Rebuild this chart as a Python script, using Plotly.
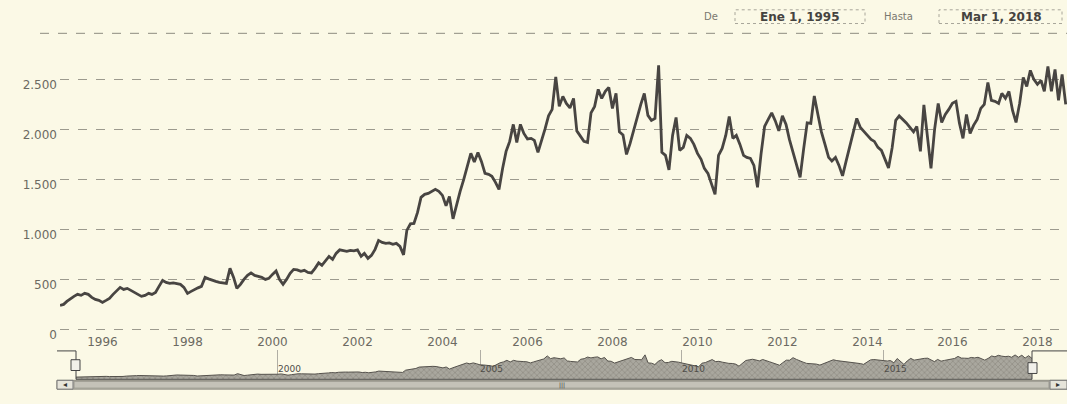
import plotly.graph_objects as go
import pandas as pd

# ---------------- data (monthly values) ----------------
v1995 = [240, 250, 280, 310, 330, 350, 340, 360, 350, 320, 300, 290]
v1996 = [270, 290, 310, 350, 390, 420, 400, 410, 390, 370, 350, 330]
v1997 = [340, 360, 350, 370, 430, 490, 470, 460, 465, 455, 450, 420]
v1998 = [360, 380, 400, 415, 430, 520, 505, 490, 480, 470, 465, 460]
v1999 = [610, 520, 410, 450, 500, 540, 565, 540, 530, 520, 500, 510]
v2000 = [550, 585, 500, 450, 500, 560, 600, 595, 580, 590, 570, 565]
v2001 = [610, 665, 640, 690, 730, 700, 760, 795, 785, 780, 790, 785]
v2002 = [795, 730, 760, 710, 740, 800, 890, 870, 860, 865, 850, 860]
v2003 = [830, 745, 990, 1055, 1060, 1170, 1320, 1350, 1360, 1380, 1400, 1380]
v2004 = [1340, 1235, 1330, 1105, 1250, 1380, 1495, 1620, 1760, 1675, 1770, 1680]
v2005 = [1560, 1550, 1530, 1470, 1400, 1610, 1780, 1880, 2050, 1870, 2050, 1960]
v2006 = [1905, 1910, 1890, 1770, 1880, 2005, 2135, 2200, 2525, 2230, 2330, 2260]
v2007 = [2215, 2310, 1985, 1930, 1880, 1870, 2165, 2230, 2400, 2310, 2380, 2420]
v2008 = [2210, 2360, 1975, 1945, 1750, 1860, 1990, 2130, 2250, 2360, 2140, 2090]
v2009 = [2110, 2640, 1770, 1740, 1595, 1940, 2120, 1790, 1820, 1940, 1910, 1850]
v2010 = [1760, 1700, 1610, 1560, 1450, 1350, 1740, 1810, 1940, 2130, 1910, 1940]
v2011 = [1850, 1740, 1720, 1710, 1640, 1420, 1750, 2030, 2100, 2165, 2085, 1985]
v2012 = [2135, 2050, 1900, 1775, 1640, 1520, 1800, 2065, 2060, 2335, 2150, 1975]
v2013 = [1850, 1720, 1685, 1720, 1640, 1535, 1680, 1815, 1970, 2110, 2020, 1980]
v2014 = [1945, 1900, 1880, 1820, 1790, 1700, 1615, 1815, 2090, 2135, 2100, 2065]
v2015 = [2020, 1975, 2030, 1780, 2245, 1900, 1610, 2000, 2260, 2070, 2150, 2200]
v2016 = [2260, 2280, 2065, 1910, 2150, 1960, 2040, 2100, 2210, 2250, 2470, 2290]
v2017 = [2280, 2260, 2360, 2310, 2380, 2190, 2070, 2260, 2520, 2430, 2590, 2500]
v2018 = [2450, 2490, 2380, 2630, 2380, 2600, 2290, 2550, 2250]

values = (v1995 + v1996 + v1997 + v1998 + v1999 + v2000 + v2001 + v2002 + v2003
          + v2004 + v2005 + v2006 + v2007 + v2008 + v2009 + v2010 + v2011
          + v2012 + v2013 + v2014 + v2015 + v2016 + v2017 + v2018)
dates = pd.date_range("1995-01-01", periods=len(values), freq="MS")

y_tick_vals = [0, 500, 1000, 1500, 2000, 2500]
y_tick_text = ["0", "500", "1.000", "1.500", "2.000", "2.500"]
x_tick_years = [1996, 1998, 2000, 2002, 2004, 2006, 2008, 2010, 2012, 2014, 2016, 2018]
nav_tick_years = [2000, 2005, 2010, 2015]
range_from = "Ene 1, 1995"
range_to = "Mar 1, 2018"

# ---------------- figure ----------------
W, H = 1067, 404
BG = "#fbf9e6"
FONT = "DejaVu Sans"


def px(x):
    return x / W


def py(y):
    return (H - y) / H


fig = go.Figure()
fig.add_trace(go.Scatter(
    x=dates, y=values, mode="lines",
    line=dict(color="#484542", width=2.8),
    xaxis="x", yaxis="y", hoverinfo="skip"))
fig.add_trace(go.Scatter(
    x=dates, y=values, mode="lines", fill="tozeroy",
    fillcolor="#a19f96",
    fillpattern=dict(shape="x", fgcolor="#6f6d66", bgcolor="#a9a79e", size=4, solidity=0.3),
    line=dict(color="#55524d", width=1),
    xaxis="x2", yaxis="y2", hoverinfo="skip"))

shapes = []
# dashed line at top of chart
shapes.append(dict(type="line", xref="paper", yref="paper", x0=px(40), x1=1,
                   y0=py(34), y1=py(34), line=dict(color="#8e8c80", width=1, dash="dash")))
# range input boxes
for x0, x1 in [(735, 865), (939, 1062)]:
    shapes.append(dict(type="rect", xref="paper", yref="paper", x0=px(x0), x1=px(x1),
                       y0=py(24), y1=py(10), fillcolor=BG,
                       line=dict(color="#a8a69a", width=1, dash="dot")))
# navigator outline
for (xa, ya, xb, yb) in [(57, 358, 76, 358), (76, 358, 76, 387), (76, 387, 1032, 387),
                         (1032, 358, 1032, 387), (1032, 358, 1067, 358)]:
    shapes.append(dict(type="line", xref="paper", yref="paper", x0=px(xa), x1=px(xb),
                       y0=py(ya), y1=py(yb), line=dict(color="#444", width=1)))
# scrollbar
shapes.append(dict(type="rect", xref="paper", yref="paper", x0=px(57), x1=px(1067),
                   y0=py(397), y1=py(388), fillcolor="#d2d0c6", line=dict(color="#8a887e", width=1)))
shapes.append(dict(type="rect", xref="paper", yref="paper", x0=px(74), x1=px(1049),
                   y0=py(396), y1=py(389), fillcolor="#c4c2b8", line=dict(color="#9a988e", width=1)))
for x0, x1 in [(57, 73), (1050, 1067)]:
    shapes.append(dict(type="rect", xref="paper", yref="paper", x0=px(x0), x1=px(x1),
                       y0=py(397), y1=py(388), fillcolor="#e6e4da", line=dict(color="#777", width=1)))
# handles
for x0, x1, y0, y1 in [(71, 80, 367, 378), (1028, 1037, 370, 381)]:
    shapes.append(dict(type="rect", xref="paper", yref="paper", x0=px(x0), x1=px(x1),
                       y0=py(y1), y1=py(y0), fillcolor="#f1f0ea", line=dict(color="#444", width=1)))


def note(text, x, y, size, color):
    return dict(text=text, x=px(x), y=py(y), xref="paper", yref="paper", showarrow=False,
                xanchor="center", yanchor="middle",
                font=dict(family=FONT, size=size, color=color))


annotations = [
    note("De", 711, 17, 10, "#7a7870"),
    note("Hasta", 898, 17, 10, "#7a7870"),
    note("<b>%s</b>" % range_from, 800, 17, 12, "#45433f"),
    note("<b>%s</b>" % range_to, 1001, 17, 12, "#45433f"),
    note("◂", 65, 392.5, 8, "#333"),
    note("▸", 1058, 392.5, 8, "#333"),
    note("|||", 562, 392.5, 6, "#333"),
]

fig.update_layout(
    width=W, height=H, autosize=False,
    margin=dict(l=0, r=0, t=0, b=0),
    paper_bgcolor=BG, plot_bgcolor=BG,
    showlegend=False,
    separators=",.",
    xaxis=dict(domain=[px(60), 1], range=["1995-01-01", "2018-09-12"], type="date",
               anchor="y",
               tickvals=["%d-01-01" % y for y in x_tick_years],
               ticktext=[str(y) for y in x_tick_years],
               showgrid=False, zeroline=False, showline=False, ticks="",
               ticklabelstandoff=0,
               tickfont=dict(family=FONT, size=12, color="#6c6a62")),
    yaxis=dict(domain=[py(340), py(40)], range=[-39, 2902], anchor="x",
               tickvals=y_tick_vals, ticktext=y_tick_text,
               showgrid=True, gridcolor="#9c9a8e", gridwidth=1, griddash="dash",
               zeroline=False, showline=False, ticks="",
               ticklabelshift=5, ticklabelstandoff=2,
               tickfont=dict(family=FONT, size=12, color="#6c6a62")),
    xaxis2=dict(domain=[px(76), px(1032)], range=["1995-01-01", "2018-09-01"], type="date",
                anchor="y2",
                tickvals=["%d-01-01" % y for y in nav_tick_years],
                ticktext=[str(y) for y in nav_tick_years],
                showgrid=True, gridcolor="#b0aea4", gridwidth=1,
                zeroline=False, showline=False, ticks="",
                ticklabelposition="inside right",
                tickfont=dict(family=FONT, size=9, color="#4f4d48")),
    yaxis2=dict(domain=[py(387), py(357)], range=[0, 3170], anchor="x2",
                showgrid=False, zeroline=False, showticklabels=False, ticks=""),
    shapes=shapes,
    annotations=annotations,
)

fig.write_html("out.html",
               config={"responsive": False, "displayModeBar": False, "staticPlot": True},
               post_script="document.body.style.margin='0';document.body.style.overflow='hidden';")
